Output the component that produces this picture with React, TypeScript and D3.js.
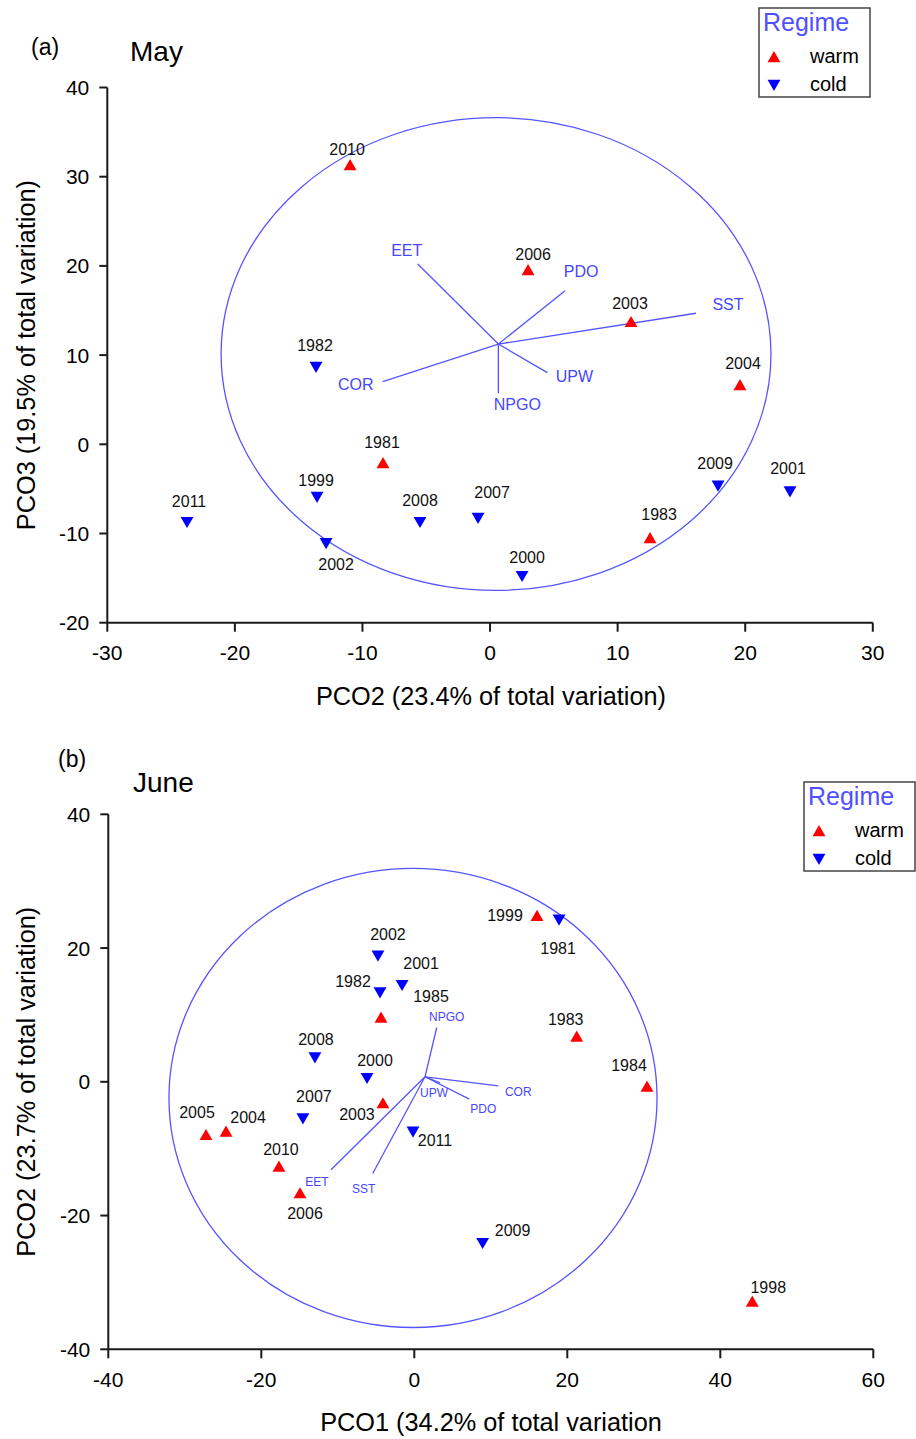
import * as d3 from "d3";

// ---- (a) May ----
const mayYears = ["2010", "2006", "2003", "2004", "1981", "1983", "1982", "1999", "2011", "2002", "2008", "2007", "2000", "2009", "2001"];
const mayRegime = ["warm", "warm", "warm", "warm", "warm", "warm", "cold", "cold", "cold", "cold", "cold", "cold", "cold", "cold", "cold"];
const mayPco2 = [-10.97, 2.98, 11.05, 19.59, -8.39, 12.54, -13.64, -13.56, -23.75, -12.85, -5.49, -0.94, 2.51, 17.87, 23.51];
const mayPco3 = [31.31, 19.54, 13.73, 6.65, -2.1, -10.5, 8.67, -5.91, -8.73, -11.09, -8.73, -8.26, -14.78, -4.65, -5.3];

const mayVectorNames = ["EET", "PDO", "SST", "COR", "UPW", "NPGO"];
const mayVectorX = [-5.67, 5.88, 16.14, -8.41, 4.49, 0.65];
const mayVectorY = [20.21, 17.22, 14.69, 7.02, 8.03, 5.72];
const mayVectorOrigin = [0.65, 11.24];
const mayCircleCenter = [0.47, 10.12];
const mayCircleRadii = [21.55, 26.5];

const mayXTicks = [-30, -20, -10, 0, 10, 20, 30];
const mayYTicks = [-20, -10, 0, 10, 20, 30, 40];

// ---- (b) June ----
const juneYears = ["1999", "1981", "2002", "2001", "1982", "1985", "2008", "2000", "2007", "2003", "2005", "2004", "2010", "2006", "2011", "2009", "1998", "1983", "1984"];
const juneRegime = ["warm", "cold", "cold", "cold", "cold", "warm", "cold", "cold", "cold", "warm", "warm", "warm", "warm", "warm", "cold", "cold", "warm", "warm", "warm"];
const junePco1 = [16.04, 18.92, -4.75, -1.6, -4.48, -4.35, -12.99, -6.18, -14.56, -4.1, -27.23, -24.61, -17.69, -14.94, -0.17, 8.93, 44.18, 21.23, 30.42];
const junePco2 = [24.82, 24.22, 18.84, 14.46, 13.36, 9.62, 3.64, 0.55, -5.49, -3.19, -7.93, -7.43, -12.66, -16.65, -7.48, -24.12, -32.85, 6.77, -0.7];

const juneVectorNames = ["NPGO", "COR", "PDO", "UPW", "SST", "EET"];
const juneVectorX = [2.93, 10.98, 7.19, 3.36, -5.44, -10.89];
const juneVectorY = [8.12, -0.6, -2.59, -0.15, -13.71, -13.16];
const juneVectorOrigin = [1.4, 0.75];
const juneCircleCenter = [-0.17, -2.42];
const juneCircleRadii = [31.9, 34.32];

const juneXTicks = [-40, -20, 0, 20, 40, 60];
const juneYTicks = [-40, -20, 0, 20, 40];

// label nudges in pixels (layout only)
const mayLabelDx = [-3, 5, -1, 3, -1, 9, -1, -1, 2, 10, 0, 14, 5, -3, -2];
const mayLabelDy = [-16, -16, -18, -21, -21, -23, -21, -17, -21, 21, -22, -25, -19, -22, -23];
const mayVecDx = [-11, 16, 32, -27, 27, 19];
const mayVecDy = [-14, -19, -9, 3, 4, 11];
const juneLabelDx = [-32, -1, 10, 19, -27, 50, 1, 8, 11, -26, -9, 22, 2, 5, 22, 30, 16, -11, -18];
const juneLabelDy = [0, 29, -21, -22, -11, -21, -18, -18, -22, 11, -22, -14, -17, 20, 9, -13, -14, -17, -21];
const juneVecDx = [10, 20, 14, -6, -9, -14];
const juneVecDy = [-10, 6, 10, 10, 16, 12];

const FONT = "'Liberation Sans', Arial, sans-serif";
const VEC = "#5555ff";
const COLORS: Record<string, string> = { warm: "#ff0000", cold: "#0000ff" };

const upTri = d3.symbol(d3.symbolTriangle, 72)()!;

function Marker({ x, y, regime }: { x: number; y: number; regime: string }) {
  const t = regime === "warm" ? `translate(${x},${y + 1.5})` : `translate(${x},${y - 1.5}) rotate(180)`;
  return <path d={upTri} transform={t} fill={COLORS[regime]} />;
}

function Legend({ left, top }: { left: number; top: number }) {
  return (
    <g transform={`translate(${left},${top})`}>
      <rect width={111} height={89} fill="white" stroke="#444" strokeWidth={1.5} />
      <text x={4} y={23} fontSize={25} fill="#5050ff">Regime</text>
      <Marker x={15} y={49} regime="warm" />
      <Marker x={15} y={77} regime="cold" />
      <text x={51} y={55} fontSize={20}>warm</text>
      <text x={51} y={83} fontSize={20}>cold</text>
    </g>
  );
}

interface PanelProps {
  tag: string;
  title: string;
  xTitle: string;
  yTitle: string;
  xTicks: number[];
  yTicks: number[];
  xRange: [number, number];
  yRange: [number, number];
  years: string[];
  regime: string[];
  xs: number[];
  ys: number[];
  ldx: number[];
  ldy: number[];
  vecNames: string[];
  vecX: number[];
  vecY: number[];
  vecOrigin: number[];
  vdx: number[];
  vdy: number[];
  vecFont: number;
  circleCenter: number[];
  circleRadii: number[];
  legend: [number, number];
  tagPos: [number, number];
  titlePos: [number, number];
}

function Panel(p: PanelProps) {
  const x = d3.scaleLinear().domain(d3.extent(p.xTicks) as [number, number]).range(p.xRange);
  const y = d3.scaleLinear().domain(d3.extent(p.yTicks) as [number, number]).range(p.yRange);
  const [x0, x1] = p.xRange;
  const [yb, yt] = p.yRange;
  const [cx, cy] = p.circleCenter;
  const ox = x(p.vecOrigin[0]);
  const oy = y(p.vecOrigin[1]);
  return (
    <g fontFamily={FONT}>
      <text x={p.tagPos[0]} y={p.tagPos[1]} fontSize={23}>{p.tag}</text>
      <text x={p.titlePos[0]} y={p.titlePos[1]} fontSize={28}>{p.title}</text>
      {/* axes */}
      <line x1={x0} x2={x0} y1={yt} y2={yb} stroke="#1a1a1a" strokeWidth={2} />
      <line x1={x0} x2={x1} y1={yb} y2={yb} stroke="#1a1a1a" strokeWidth={2} />
      {p.yTicks.map((t) => (
        <g key={"y" + t}>
          <line x1={x0 - 8} x2={x0} y1={y(t)} y2={y(t)} stroke="#1a1a1a" strokeWidth={2} />
          <text x={x0 - 18} y={y(t)} fontSize={21} textAnchor="end" dominantBaseline="central">{t}</text>
        </g>
      ))}
      {p.xTicks.map((t) => (
        <g key={"x" + t}>
          <line x1={x(t)} x2={x(t)} y1={yb} y2={yb + 9} stroke="#1a1a1a" strokeWidth={2} />
          <text x={x(t)} y={yb + 30} fontSize={21} textAnchor="middle" dominantBaseline="central">{t}</text>
        </g>
      ))}
      <text x={491} y={yb + 82} fontSize={25.3} textAnchor="middle">{p.xTitle}</text>
      <text
        transform={`translate(35,${(yt + yb) / 2}) rotate(-90)`}
        fontSize={25.3}
        textAnchor="middle"
      >
        {p.yTitle}
      </text>
      {/* correlation circle */}
      <ellipse
        cx={x(cx)}
        cy={y(cy)}
        rx={x(cx + p.circleRadii[0]) - x(cx)}
        ry={y(cy) - y(cy + p.circleRadii[1])}
        fill="none"
        stroke={VEC}
        strokeWidth={1.3}
      />
      {/* vectors */}
      {p.vecNames.map((n, i) => (
        <g key={n}>
          <line x1={ox} y1={oy} x2={x(p.vecX[i])} y2={y(p.vecY[i])} stroke={VEC} strokeWidth={1.3} />
          <text
            x={x(p.vecX[i]) + p.vdx[i]}
            y={y(p.vecY[i]) + p.vdy[i]}
            fontSize={p.vecFont}
            fill="#4646ff"
            textAnchor="middle"
            dominantBaseline="central"
          >
            {n}
          </text>
        </g>
      ))}
      {/* points */}
      {p.years.map((yr, i) => {
        const px = x(p.xs[i]);
        const py = y(p.ys[i]);
        return (
          <g key={yr}>
            <Marker x={px} y={py} regime={p.regime[i]} />
            <text
              x={px + p.ldx[i]}
              y={py + p.ldy[i]}
              fontSize={16}
              fill="#111"
              textAnchor="middle"
              dominantBaseline="central"
            >
              {yr}
            </text>
          </g>
        );
      })}
      <Legend left={p.legend[0]} top={p.legend[1]} />
    </g>
  );
}

export default function App() {
  return (
    <div style={{ position: "absolute", left: 0, top: 0 }}>
      <svg width={916} height={1439} viewBox="0 0 916 1439" style={{ display: "block", background: "white" }}>
        <Panel
          tag="(a)"
          title="May"
          xTitle="PCO2 (23.4% of total variation)"
          yTitle="PCO3 (19.5% of total variation)"
          xTicks={mayXTicks}
          yTicks={mayYTicks}
          xRange={[107.3, 872.8]}
          yRange={[622.7, 87.5]}
          years={mayYears}
          regime={mayRegime}
          xs={mayPco2}
          ys={mayPco3}
          ldx={mayLabelDx}
          ldy={mayLabelDy}
          vecNames={mayVectorNames}
          vecX={mayVectorX}
          vecY={mayVectorY}
          vecOrigin={mayVectorOrigin}
          vdx={mayVecDx}
          vdy={mayVecDy}
          vecFont={16}
          circleCenter={mayCircleCenter}
          circleRadii={mayCircleRadii}
          legend={[759, 8]}
          tagPos={[31, 55]}
          titlePos={[130, 61]}
        />
        <Panel
          tag="(b)"
          title="June"
          xTitle="PCO1 (34.2% of total variation"
          yTitle="PCO2 (23.7% of total variation)"
          xTicks={juneXTicks}
          yTicks={juneYTicks}
          xRange={[108.3, 873.3]}
          yRange={[1349.3, 814.3]}
          years={juneYears}
          regime={juneRegime}
          xs={junePco1}
          ys={junePco2}
          ldx={juneLabelDx}
          ldy={juneLabelDy}
          vecNames={juneVectorNames}
          vecX={juneVectorX}
          vecY={juneVectorY}
          vecOrigin={juneVectorOrigin}
          vdx={juneVecDx}
          vdy={juneVecDy}
          vecFont={12}
          circleCenter={juneCircleCenter}
          circleRadii={juneCircleRadii}
          legend={[804, 782]}
          tagPos={[58, 767]}
          titlePos={[133, 792]}
        />
      </svg>
    </div>
  );
}
